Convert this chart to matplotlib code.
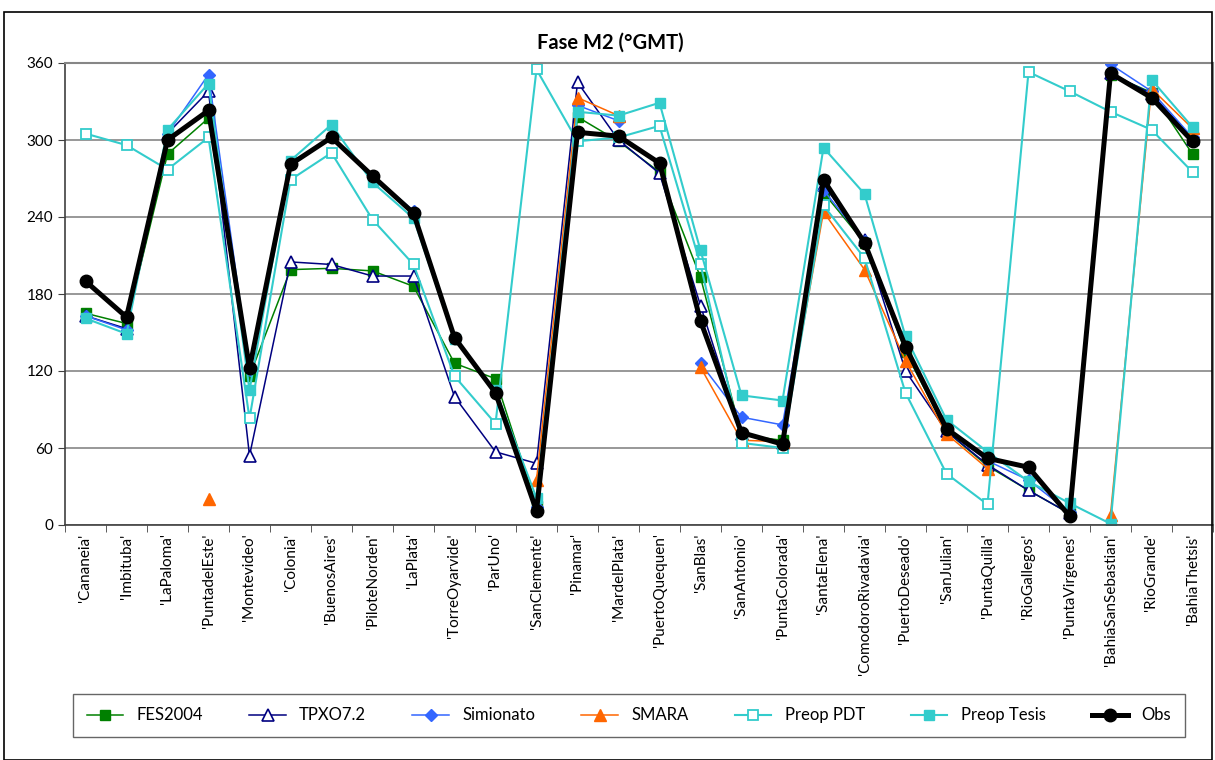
import numpy as np
import matplotlib.pyplot as plt
from matplotlib.patches import Rectangle

nan = np.nan

stations = ["'Cananeia'", "'Imbituba'", "'LaPaloma'", "'PuntadelEste'", "'Montevideo'",
            "'Colonia'", "'BuenosAires'", "'PiloteNorden'", "'LaPlata'", "'TorreOyarvide'",
            "'ParUno'", "'SanClemente'", "'Pinamar'", "'MardelPlata'", "'PuertoQuequen'",
            "'SanBlas'", "'SanAntonio'", "'PuntaColorada'", "'SantaElena'",
            "'ComodoroRivadavia'", "'PuertoDeseado'", "'SanJulian'", "'PuntaQuilla'",
            "'RioGallegos'", "'PuntaVirgenes'", "'BahiaSanSebastian'", "'RioGrande'",
            "'BahiaThetsis'"]

fes2004 = [165, 157, 289, 317, 116, 199, 200, 198, 186, 126, 114, 15, 318, 299,
           275, 193, 70, 66, 259, 220, 135, 73, 46, 27, 9, 351, 337, 289]
tpxo72 = [163, 153, 305, 338, 54, 205, 203, 194, 194, 100, 57, 48, 345, 300,
          274, 171, 71, 64, 265, 222, 120, 73, 47, 27, 9, 352, 336, 301]
simionato = [163, 152, 305, 351, 121, 282, 302, 272, 245, 146, 104, 14, 327, 315,
             nan, 126, 84, 78, 261, 221, 138, 74, 50, 35, 10, 359, 338, 302]
smara = [nan, nan, nan, 20, nan, nan, nan, nan, nan, nan, nan, 35, 333, 319,
         nan, 123, 66, 65, 244, 199, 128, 71, 44, nan, nan, 8, 340, 309]
preop_pdt = [305, 296, 277, 302, 83, 269, 290, 238, 203, 116, 79, 355, 299, 302,
             311, 203, 64, 60, 249, 208, 103, 40, 16, 353, 338, 322, 308, 275]
preop_tesis = [161, 149, 308, 344, 105, 284, 312, 267, 239, 145, 105, 21, 322, 319,
               329, 214, 101, 97, 294, 258, 147, 82, 57, 34, 17, 1, 347, 310]
obs = [190, 162, 300, 323, 122, 281, 302, 272, 243, 146, 103, 11, 306, 303,
       282, 159, 72, 63, 269, 220, 139, 75, 52, 45, 7, 352, 333, 299]

plt.rcParams['font.family'] = ['Lato', 'DejaVu Sans']

fig = plt.figure(figsize=(12.15, 7.6), dpi=100)
ax = fig.add_axes([65 / 1215, 1 - 525 / 760, 1148 / 1215, 462 / 760])

x = np.arange(len(stations))
cyan = '#33CCCC'

ax.plot(x, fes2004, color='#008000', lw=1.1, marker='s', ms=7,
        mfc='#008000', mec='#008000', label='FES2004')
ax.plot(x, tpxo72, color='#000080', lw=1.1, marker='^', ms=8,
        mfc='white', mec='#000080', mew=1.2, label='TPXO7.2')
ax.plot(x, simionato, color='#3366FF', lw=1.1, marker='D', ms=6,
        mfc='#3366FF', mec='#3366FF', label='Simionato')
ax.plot(x, smara, color='#FF6600', lw=1.1, marker='^', ms=8,
        mfc='#FF6600', mec='#FF6600', label='SMARA')
ax.plot(x, preop_pdt, color=cyan, lw=1.5, marker='s', ms=7,
        mfc='white', mec=cyan, mew=1.3, label='Preop PDT')
ax.plot(x, preop_tesis, color=cyan, lw=1.5, marker='s', ms=7,
        mfc=cyan, mec=cyan, label='Preop Tesis')
ax.plot(x, obs, color='black', lw=3.6, marker='o', ms=9,
        mfc='black', mec='black', label='Obs')

ax.set_xlim(-0.5, len(stations) - 0.5)
ax.set_ylim(0, 360)
ax.set_yticks(np.arange(0, 361, 60))
ax.yaxis.grid(True, color='#868686', lw=1.2)
ax.set_axisbelow(True)

# category labels centred, tick marks between categories
ax.set_xticks(x)
ax.set_xticklabels(stations, rotation=90, fontsize=11)
ax.set_xticks(np.arange(-0.5, len(stations)), minor=True)
ax.tick_params(axis='x', which='major', length=0, pad=6)
ax.tick_params(axis='x', which='minor', length=5, color='#404040')
ax.tick_params(axis='y', length=5, labelsize=11, color='#404040')

for side in ['top', 'right']:
    ax.spines[side].set_color('#868686')
    ax.spines[side].set_linewidth(1.5)
for side in ['left', 'bottom']:
    ax.spines[side].set_color('#404040')
    ax.spines[side].set_linewidth(1.2)

fig.text(610 / 1215, 1 - 43 / 760, 'Fase M2 (°GMT)', ha='center', va='center',
         fontsize=14.5, fontweight='bold')

leg = fig.legend(loc='lower left', ncol=7, mode='expand',
                 bbox_to_anchor=(65 / 1215, 1 - 745 / 760, 1128 / 1215, 48 / 760),
                 frameon=True, fancybox=False, edgecolor='#404040', fontsize=12,
                 handlelength=2.2, borderpad=0.8)
leg.get_frame().set_linewidth(1.0)

# outer chart border
fig.patches.append(Rectangle((4 / 1215, 0), 1208 / 1215, 1 - 12 / 760,
                             transform=fig.transFigure, fill=False,
                             edgecolor='black', lw=1.2))

fig.savefig('out.png', dpi=100)
